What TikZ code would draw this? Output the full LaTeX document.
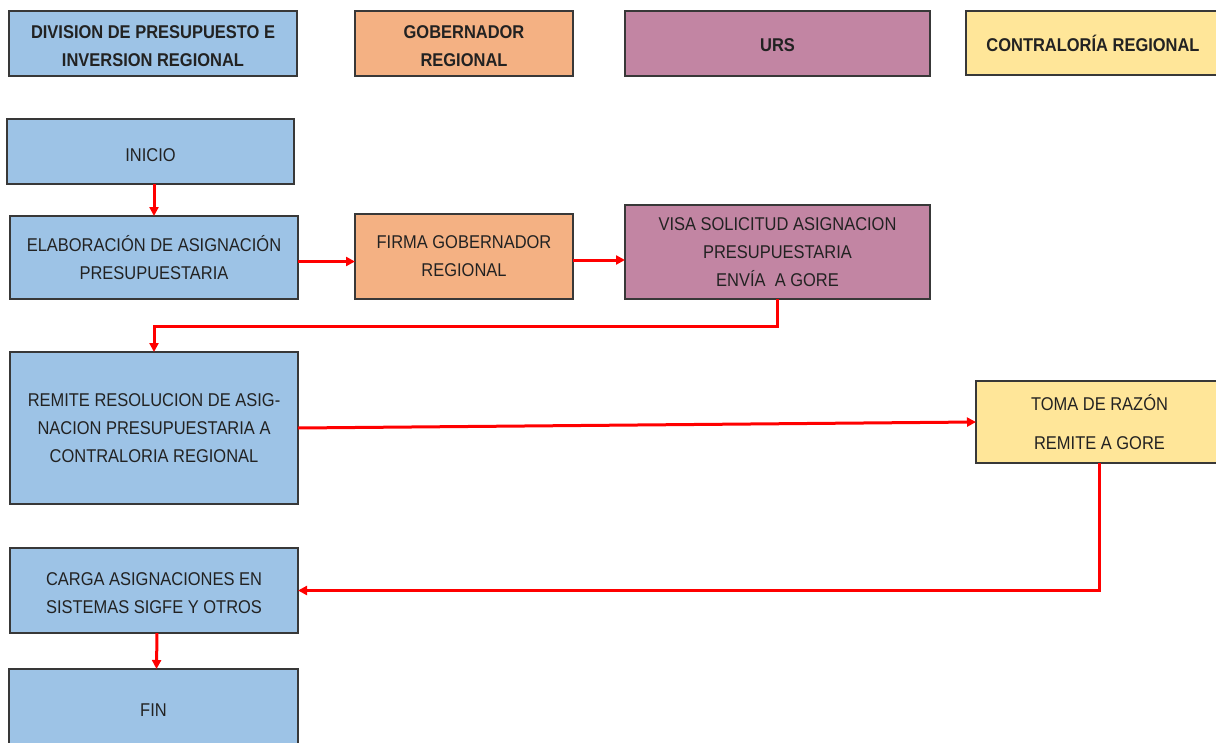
\documentclass[tikz,border=0pt]{standalone}
\usepackage{fontspec}
\setmainfont{Liberation Sans}[FakeStretch=0.89]
\usetikzlibrary{arrows.meta}
\definecolor{laneblue}{HTML}{9DC3E6}
\definecolor{laneorange}{HTML}{F4B183}
\definecolor{lanepurple}{HTML}{C285A3}
\definecolor{laneyellow}{HTML}{FFE699}
\definecolor{inkgray}{HTML}{222222}
\definecolor{flowred}{HTML}{FF0000}
% lowers a centred block of lines without changing the space it reserves
\newcommand{\lowertext}[2]{\raisebox{-#1}[\height][\depth]{\begin{tabular}{@{}c@{}}#2\end{tabular}}}
\tikzset{
  box/.style={draw=inkgray!90, line width=1.3pt, inner sep=0pt, outer sep=0pt,
    align=center, text=inkgray, font=\fontsize{18.5}{28}\selectfont},
  head/.style={box, font=\fontsize{18.5}{28}\selectfont\bfseries},
  arr/.style={draw=flowred, line width=3pt,
    -{Triangle[length=9pt,width=9pt]}},
}
\begin{document}
\begin{tikzpicture}[x=1pt, y=-1pt]
\useasboundingbox (0,0) rectangle (1216,742);

% lane headers
\node[head, fill=laneblue, minimum width=288pt, minimum height=65pt] (hdiv) at (153,43.5)
  {\lowertext{3pt}{DIVISION DE PRESUPUESTO E\\INVERSION REGIONAL}};
\node[head, fill=laneorange, minimum width=218pt, minimum height=65pt] (hgob) at (464,43.5)
  {\lowertext{3pt}{GOBERNADOR\\REGIONAL}};
\node[head, fill=lanepurple, minimum width=305pt, minimum height=65pt] (hurs) at (777.5,43.5)
  {\lowertext{2pt}{URS}};
\node[head, fill=laneyellow, minimum width=254pt, minimum height=64pt] (hcon) at (1093,43)
  {CONTRALORÍA REGIONAL};

% process steps
\node[box, fill=laneblue, minimum width=287pt, minimum height=65pt] (inicio) at (150.5,151.5)
  {\lowertext{4pt}{INICIO}};
\node[box, fill=laneblue, minimum width=288pt, minimum height=83pt] (elab) at (154,257.5)
  {ELABORACIÓN DE ASIGNACIÓN\\PRESUPUESTARIA};
\node[box, fill=laneorange, minimum width=218pt, minimum height=85pt] (firma) at (464,256.5)
  {FIRMA GOBERNADOR\\REGIONAL};
\node[box, fill=lanepurple, minimum width=305pt, minimum height=94pt] (visa) at (777.5,252)
  {VISA SOLICITUD ASIGNACION\\PRESUPUESTARIA\\ENVÍA\ \ A GORE};
\node[box, fill=laneblue, minimum width=288pt, minimum height=152pt] (remite) at (154,428)
  {REMITE RESOLUCION DE ASIG-\\NACION PRESUPUESTARIA A\\CONTRALORIA REGIONAL};
\node[box, fill=laneyellow, minimum width=247pt, minimum height=82pt,
  font=\fontsize{18.5}{39}\selectfont] (toma) at (1099.5,422)
  {TOMA DE RAZÓN\\REMITE A GORE};
\node[box, fill=laneblue, minimum width=288pt, minimum height=85pt] (carga) at (154,590.5)
  {\lowertext{3pt}{CARGA ASIGNACIONES EN\\SISTEMAS SIGFE Y OTROS}};
\node[box, fill=laneblue, minimum width=289pt, minimum height=82pt] (fin) at (153.5,710)
  {FIN};

% connectors
\draw[arr] (inicio.south -| elab.north) -- (elab.north);
\draw[arr] ([yshift=-4pt]elab.east) -- ([yshift=-4pt]elab.east -| firma.west);
\draw[arr] ([yshift=-3.5pt]firma.east) -- ([yshift=-3.5pt]firma.east -| visa.west);
\draw[arr] (visa.south) -- ++(0,27) -| (remite.north);
\draw[arr] (remite.east) -- (toma.west);
\draw[arr] (toma.south) |- (carga.east);
\draw[arr] ([xshift=3pt]carga.south) -- ([xshift=3pt]fin.north);
\end{tikzpicture}
\end{document}
